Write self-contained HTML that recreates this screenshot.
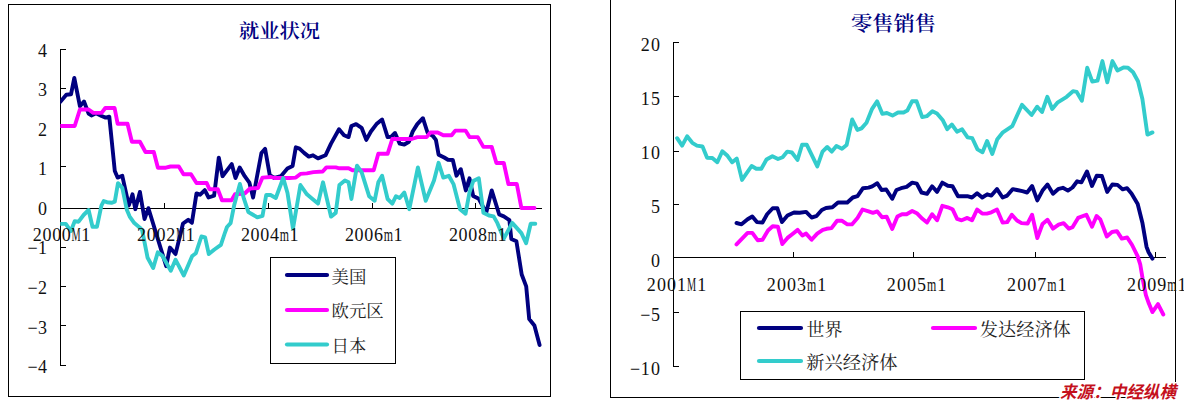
<!DOCTYPE html><html><head><meta charset="utf-8"><style>html,body{margin:0;padding:0;background:#fff;}svg{display:block}</style></head><body>
<svg width="1184" height="404" viewBox="0 0 1184 404">
<rect width="1184" height="404" fill="#fff"/>
<g class="nt" shape-rendering="crispEdges" fill="#000">
<rect x="8" y="4" width="543" height="1"/><rect x="8" y="396" width="543" height="1"/>
<rect x="8" y="4" width="1" height="393"/><rect x="550" y="4" width="1" height="393"/>
<rect x="60" y="49" width="1" height="317"/>
<rect x="60" y="49" width="6" height="1"/>
<rect x="60" y="88" width="6" height="1"/>
<rect x="60" y="127" width="6" height="1"/>
<rect x="60" y="166" width="6" height="1"/>
<rect x="60" y="247" width="6" height="1"/>
<rect x="60" y="286" width="6" height="1"/>
<rect x="60" y="325" width="6" height="1"/>
<rect x="60" y="365" width="6" height="1"/>
<rect x="60" y="208" width="482" height="1"/>
<rect x="164" y="203" width="1" height="5"/>
<rect x="268" y="203" width="1" height="5"/>
<rect x="372" y="203" width="1" height="5"/>
<rect x="475" y="203" width="1" height="5"/>
<rect x="270" y="257" width="126" height="1"/><rect x="270" y="363" width="126" height="1"/>
<rect x="270" y="257" width="1" height="107"/><rect x="395" y="257" width="1" height="107"/>
</g>
<g class="nt" fill="none" stroke-width="3.9" stroke-linejoin="round" stroke-linecap="round">
<clipPath id="cl"><rect x="60.3" y="0" width="500" height="404"/></clipPath>
<g clip-path="url(#cl)">
<polyline stroke="#000080" points="59.0,103.3 60.8,101.2 66.3,94.7 71.0,94.3 74.3,78.0 79.9,106.2 84.0,101.5 88.6,113.6 91.4,115.5 96.0,113.2 101.6,116.0 105.6,117.6 109.3,116.7 114.8,171.1 117.6,177.6 122.3,175.8 128.8,205.5 132.5,194.3 135.3,209.2 139.9,191.9 144.5,219.0 148.4,208.2 166.2,266.2 169.9,247.6 175.5,254.1 183.0,223.5 188.2,219.8 191.9,222.8 196.5,193.4 200.2,194.7 204.8,190.1 208.6,197.5 214.1,195.7 218.8,157.6 222.5,176.2 231.7,164.1 235.5,178.0 239.7,167.5 244.7,176.2 249.4,182.7 253.1,197.5 261.4,153.0 265.1,148.9 269.8,175.3 274.4,178.0 280.9,176.2 287.4,168.6 292.6,165.9 295.8,147.3 299.5,148.6 304.1,152.9 308.8,156.6 313.0,155.3 318.0,158.4 325.5,155.3 331.0,143.6 339.0,129.3 344.0,135.3 348.6,137.1 351.4,126.0 356.1,124.1 361.6,127.8 366.3,139.9 370.9,131.5 376.5,124.1 382.1,119.5 387.6,137.1 391.3,136.7 395.0,133.0 399.7,143.6 404.3,144.5 409.0,141.7 412.7,131.5 417.3,124.1 422.9,118.2 427.5,132.5 433.1,136.2 435.9,139.9 438.6,154.7 444.2,157.5 447.9,159.7 452.8,160.0 456.5,175.7 460.8,169.2 465.8,190.4 469.5,178.3 473.2,196.0 478.8,198.8 486.2,212.7 491.7,190.4 499.2,214.5 503.8,216.4 509.4,220.1 511.3,238.9 516.4,241.3 521.7,274.5 526.2,286.4 529.2,319.1 534.4,325.5 539.6,345.0"/>
<polyline stroke="#FF00FF" points="58.0,126.0 74.7,126.0 79.9,109.5 88.6,109.5 93.3,112.9 101.6,112.9 105.3,108.0 114.6,108.0 117.6,123.7 127.5,123.7 131.9,141.7 139.9,141.7 145.5,152.0 153.8,152.0 157.9,167.7 165.9,167.7 170.5,166.5 178.8,166.5 183.5,174.3 191.0,174.3 196.5,183.0 206.7,183.0 209.5,189.2 217.8,189.2 222.0,200.2 231.5,200.2 235.0,194.3 244.7,193.5 250.0,188.5 258.0,188.0 262.5,177.6 271.0,177.0 274.4,178.0 289.3,178.0 295.8,177.6 300.4,173.9 306.9,173.4 313.4,172.1 322.7,171.5 326.4,167.4 335.7,167.4 339.4,168.3 348.6,168.3 352.4,170.2 373.7,170.2 378.3,153.8 387.6,153.8 392.3,139.0 411.7,139.0 417.3,137.1 426.6,137.1 430.3,132.5 437.7,132.5 443.3,135.3 451.6,135.3 455.3,130.6 465.5,130.6 469.5,137.1 477.8,137.1 483.4,146.9 491.7,146.9 496.4,163.0 503.8,163.0 508.4,184.0 516.8,184.0 521.4,208.0 534.5,208.0"/>
<polyline stroke="#33CCCC" points="58.0,223.9 65.8,223.9 70.8,231.2 74.7,221.2 78.6,221.7 83.6,215.0 88.6,210.0 92.5,226.7 97.0,226.7 101.4,205.6 103.7,201.1 107.0,202.2 111.5,202.8 114.8,201.7 118.0,183.2 122.3,187.8 126.9,210.1 129.7,216.6 134.3,223.1 139.9,227.7 142.1,230.0 147.6,257.8 153.2,268.0 157.8,252.3 162.5,256.0 170.8,270.8 175.5,259.7 183.8,275.5 192.2,256.0 195.9,253.2 201.4,236.5 205.1,237.4 208.8,254.1 214.4,249.5 220.9,244.8 224.5,234.0 227.0,227.0 230.6,223.2 234.3,204.7 239.9,183.9 243.9,198.7 248.4,212.1 252.1,214.3 257.3,217.3 262.5,215.8 266.2,195.0 270.6,195.0 275.8,198.0 283.2,178.0 287.5,193.0 293.0,228.6 300.4,185.0 306.9,194.3 312.5,199.0 318.0,203.6 323.0,182.3 331.0,216.6 335.7,212.9 339.4,185.0 344.9,180.4 348.6,182.3 351.4,199.0 357.0,165.6 361.6,172.1 369.1,196.2 374.6,200.8 378.3,182.3 382.1,175.8 387.6,199.0 392.3,203.6 396.0,196.2 399.7,198.0 404.3,192.5 409.3,209.2 417.9,167.4 425.7,200.8 434.0,180.4 438.6,162.8 443.3,177.6 448.8,175.8 453.5,184.1 460.0,209.2 465.5,213.8 469.5,192.3 473.2,181.1 478.8,178.3 483.4,212.7 489.0,215.5 493.6,216.4 497.3,222.9 503.8,238.6 512.2,222.9 521.4,233.1 526.1,243.3 530.7,223.8 535.3,223.8"/>
</g>
</g>
<g font-family="'Liberation Serif', serif" font-size="18" fill="#111">
<text y="56.5" text-anchor="middle"><tspan x="42.50">4</tspan></text>
<text y="96.1" text-anchor="middle"><tspan x="42.50">3</tspan></text>
<text y="135.7" text-anchor="middle"><tspan x="42.50">2</tspan></text>
<text y="175.2" text-anchor="middle"><tspan x="42.50">1</tspan></text>
<text y="214.9" text-anchor="middle"><tspan x="42.50">0</tspan></text>
<text y="254.4" text-anchor="middle"><tspan x="32.60">−</tspan><tspan x="42.50">1</tspan></text>
<text y="294.1" text-anchor="middle"><tspan x="32.60">−</tspan><tspan x="42.50">2</tspan></text>
<text y="333.6" text-anchor="middle"><tspan x="32.60">−</tspan><tspan x="42.50">3</tspan></text>
<text y="373.2" text-anchor="middle"><tspan x="32.60">−</tspan><tspan x="42.50">4</tspan></text>
<text y="241" text-anchor="middle"><tspan x="37.20">2</tspan><tspan x="46.92">0</tspan><tspan x="56.64">0</tspan><tspan x="66.36">0</tspan><tspan x="85.80">1</tspan></text><text transform="translate(76.08,241) scale(0.57,1)" text-anchor="middle">M</text>
<text y="241" text-anchor="middle"><tspan x="141.60">2</tspan><tspan x="151.32">0</tspan><tspan x="161.04">0</tspan><tspan x="170.76">2</tspan><tspan x="190.20">1</tspan></text><text transform="translate(180.48,241) scale(0.57,1)" text-anchor="middle">M</text>
<text y="241" text-anchor="middle"><tspan x="245.40">2</tspan><tspan x="255.12">0</tspan><tspan x="264.84">0</tspan><tspan x="274.56">4</tspan><tspan x="294.00">1</tspan></text><text transform="translate(284.28,241) scale(0.66,1)" text-anchor="middle">m</text>
<text y="241" text-anchor="middle"><tspan x="349.40">2</tspan><tspan x="359.12">0</tspan><tspan x="368.84">0</tspan><tspan x="378.56">6</tspan><tspan x="398.00">1</tspan></text><text transform="translate(388.28,241) scale(0.66,1)" text-anchor="middle">m</text>
<text y="241" text-anchor="middle"><tspan x="453.40">2</tspan><tspan x="463.12">0</tspan><tspan x="472.84">0</tspan><tspan x="482.56">8</tspan><tspan x="502.00">1</tspan></text><text transform="translate(492.28,241) scale(0.66,1)" text-anchor="middle">m</text>
</g>
<text x="239" y="37.5" font-family="'Liberation Serif', 'Noto Serif CJK SC', serif" font-size="19" font-weight="600" fill="#000080" textLength="81" lengthAdjust="spacingAndGlyphs">就业状况</text>
<g class="nt" stroke-width="4.2" stroke-linecap="round">
<line x1="287" y1="275" x2="327" y2="275" stroke="#000080"/>
<line x1="287" y1="310" x2="327" y2="310" stroke="#FF00FF"/>
<line x1="287" y1="344.5" x2="327" y2="344.5" stroke="#33CCCC"/>
</g>
<g font-family="'Liberation Serif', 'Noto Serif CJK SC', serif" font-size="17.4" fill="#222">
<text x="331.5" y="282.7">美国</text>
<text x="331.5" y="317">欧元区</text>
<text x="331.5" y="351.6">日本</text>
</g>
<g class="nt" shape-rendering="crispEdges" fill="#000">
<rect x="610" y="0" width="1" height="398"/>
<rect x="1175" y="0" width="1" height="383"/>
<rect x="610" y="397" width="566" height="1"/>
<rect x="673" y="42" width="1" height="325"/>
<rect x="673" y="42" width="6" height="1"/>
<rect x="673" y="96" width="6" height="1"/>
<rect x="673" y="151" width="6" height="1"/>
<rect x="673" y="204" width="6" height="1"/>
<rect x="673" y="312" width="6" height="1"/>
<rect x="673" y="366" width="6" height="1"/>
<rect x="673" y="257" width="493" height="1"/>
<rect x="793" y="252" width="1" height="5"/>
<rect x="913" y="252" width="1" height="5"/>
<rect x="1035" y="252" width="1" height="5"/>
<rect x="1155" y="252" width="1" height="5"/>
<rect x="740" y="311" width="345" height="1"/><rect x="740" y="379" width="345" height="1"/>
<rect x="740" y="311" width="1" height="69"/><rect x="1084" y="311" width="1" height="69"/>
</g>
<g class="nt" fill="none" stroke-width="3.9" stroke-linejoin="round" stroke-linecap="round">
<polyline stroke="#000080" points="736.5,223.0 741.5,224.3 747.6,219.3 752.3,216.5 756.9,222.1 762.5,222.5 767.1,214.3 772.7,208.2 777.3,208.2 782.0,222.1 787.5,215.6 794.0,212.5 799.6,212.8 806.1,211.9 811.6,217.5 816.3,216.2 821.8,210.0 826.0,208.0 832.4,207.3 838.0,202.5 847.3,202.5 852.8,197.5 857.5,196.2 863.0,188.2 868.6,187.6 872.3,186.3 877.3,183.2 881.6,190.0 886.2,189.5 892.2,198.8 896.4,190.0 901.1,188.2 906.6,186.9 912.2,182.6 916.8,183.6 921.5,192.5 927.0,193.8 932.1,186.3 937.1,191.9 942.3,182.6 947.8,185.8 952.5,186.3 958.0,196.2 967.3,196.2 972.0,197.5 977.1,193.2 982.2,197.5 987.2,194.3 991.4,195.6 997.0,189.1 1002.6,197.5 1007.2,195.6 1012.8,189.1 1017.0,190.0 1022.4,191.2 1027.1,192.5 1032.1,186.0 1037.3,200.4 1042.5,190.6 1047.5,184.5 1053.0,193.8 1058.6,188.8 1062.9,187.8 1067.9,190.6 1072.5,187.5 1077.2,181.3 1081.4,182.3 1087.0,171.5 1092.0,186.0 1096.7,175.8 1101.9,176.0 1107.2,192.0 1112.3,184.5 1117.5,184.9 1122.6,189.4 1127.1,188.2 1131.5,193.4 1137.7,204.0 1142.5,223.3 1146.5,246.7 1148.6,252.3 1152.5,258.7"/>
<polyline stroke="#FF00FF" points="736.5,244.4 747.6,232.9 752.3,232.9 757.8,240.3 762.5,239.7 768.0,230.5 772.7,226.2 777.9,226.7 782.3,244.0 787.5,237.9 792.2,234.2 797.7,229.9 802.4,235.5 806.1,233.6 811.6,239.7 817.2,233.6 822.8,229.9 826.5,228.8 831.5,228.1 837.1,220.7 841.7,220.7 847.3,224.4 851.9,224.4 857.5,217.9 862.5,209.5 868.6,211.4 872.9,212.9 877.3,211.4 882.1,217.3 886.6,216.6 892.2,229.0 897.4,216.6 902.0,214.2 906.6,214.2 912.2,211.0 916.8,213.2 922.4,218.8 927.0,222.5 932.1,214.2 937.1,220.3 942.3,205.8 947.8,207.3 952.5,209.2 957.1,218.8 961.7,220.3 967.3,217.9 972.0,220.3 977.1,209.5 982.2,213.6 986.8,213.6 991.4,212.3 997.0,209.5 1002.6,222.5 1007.2,222.1 1011.8,214.7 1017.0,220.5 1021.5,223.1 1027.6,223.5 1032.1,214.7 1037.3,238.0 1042.5,224.0 1047.5,219.7 1053.0,228.6 1058.6,224.6 1063.6,223.1 1068.8,228.6 1072.5,227.2 1078.1,217.9 1086.4,214.7 1092.0,226.8 1096.6,216.0 1100.3,219.4 1106.8,236.5 1112.0,232.0 1116.9,231.2 1121.8,238.6 1127.2,237.5 1132.1,245.0 1137.7,256.3 1140.3,264.7 1142.7,279.1 1145.9,295.2 1148.8,303.3 1152.4,312.1 1158.0,304.1 1163.3,314.5"/>
<polyline stroke="#33CCCC" points="677.1,138.2 682.1,145.6 687.1,136.3 692.3,142.8 696.9,145.6 702.5,146.5 707.1,157.7 712.3,158.0 717.3,162.3 722.3,151.2 727.5,155.8 732.2,162.3 736.8,158.6 742.0,179.9 751.6,166.0 756.3,168.8 761.3,168.8 766.5,159.5 772.4,156.2 778.0,159.0 782.6,157.2 787.3,151.6 791.9,152.5 797.5,159.9 802.1,144.7 806.7,144.7 812.3,156.2 817.3,166.4 822.5,151.6 827.2,147.0 831.8,151.6 836.4,146.0 842.0,148.8 846.6,145.1 852.2,119.5 857.4,129.9 861.5,128.4 866.5,122.7 872.1,108.8 877.1,101.3 882.3,113.8 886.9,113.0 892.5,115.6 898.0,112.5 903.6,112.5 907.3,110.6 912.0,101.3 916.6,101.3 922.2,117.1 926.8,116.2 932.4,111.2 937.0,113.4 942.6,119.9 947.2,129.2 951.8,124.5 957.0,131.7 962.1,129.3 967.6,137.3 972.3,138.2 977.5,149.4 982.5,152.2 987.1,141.0 992.3,154.0 997.3,139.2 1002.9,132.3 1012.2,126.2 1022.0,104.8 1031.6,115.0 1037.2,106.7 1042.0,112.0 1047.3,96.8 1052.2,109.0 1057.8,102.3 1066.7,96.8 1073.0,91.2 1076.7,91.9 1081.9,100.8 1087.2,67.8 1092.3,81.6 1097.5,80.7 1102.4,61.1 1107.3,82.3 1112.4,61.1 1117.5,70.5 1123.5,67.4 1128.0,67.8 1133.1,72.3 1138.0,81.2 1142.4,99.0 1147.4,134.6 1152.5,132.4"/>
</g>
<g font-family="'Liberation Serif', serif" font-size="18" fill="#111">
<text y="51.4" text-anchor="middle"><tspan x="645.30">2</tspan><tspan x="655.40">0</tspan></text>
<text y="105.4" text-anchor="middle"><tspan x="645.30">1</tspan><tspan x="655.40">5</tspan></text>
<text y="159.4" text-anchor="middle"><tspan x="645.30">1</tspan><tspan x="655.40">0</tspan></text>
<text y="213.4" text-anchor="middle"><tspan x="655.40">5</tspan></text>
<text y="267.4" text-anchor="middle"><tspan x="655.40">0</tspan></text>
<text y="321.4" text-anchor="middle"><tspan x="645.30">−</tspan><tspan x="655.40">5</tspan></text>
<text y="375.4" text-anchor="middle"><tspan x="635.20">−</tspan><tspan x="645.30">1</tspan><tspan x="655.40">0</tspan></text>
<text y="291" text-anchor="middle"><tspan x="651.30">2</tspan><tspan x="661.38">0</tspan><tspan x="671.46">0</tspan><tspan x="681.54">1</tspan><tspan x="701.70">1</tspan></text><text transform="translate(691.62,291) scale(0.57,1)" text-anchor="middle">M</text>
<text y="291" text-anchor="middle"><tspan x="771.30">2</tspan><tspan x="781.38">0</tspan><tspan x="791.46">0</tspan><tspan x="801.54">3</tspan><tspan x="821.70">1</tspan></text><text transform="translate(811.62,291) scale(0.66,1)" text-anchor="middle">m</text>
<text y="291" text-anchor="middle"><tspan x="891.30">2</tspan><tspan x="901.38">0</tspan><tspan x="911.46">0</tspan><tspan x="921.54">5</tspan><tspan x="941.70">1</tspan></text><text transform="translate(931.62,291) scale(0.66,1)" text-anchor="middle">m</text>
<text y="291" text-anchor="middle"><tspan x="1011.60">2</tspan><tspan x="1021.68">0</tspan><tspan x="1031.76">0</tspan><tspan x="1041.84">7</tspan><tspan x="1062.00">1</tspan></text><text transform="translate(1051.92,291) scale(0.66,1)" text-anchor="middle">m</text>
<text y="291" text-anchor="middle"><tspan x="1131.60">2</tspan><tspan x="1141.68">0</tspan><tspan x="1151.76">0</tspan><tspan x="1161.84">9</tspan><tspan x="1182.00">1</tspan></text><text transform="translate(1171.92,291) scale(0.66,1)" text-anchor="middle">m</text>
</g>
<text x="851" y="31" font-family="'Liberation Serif', 'Noto Serif CJK SC', serif" font-size="20" font-weight="600" fill="#000080" textLength="85" lengthAdjust="spacingAndGlyphs">零售销售</text>
<g class="nt" stroke-width="4.2" stroke-linecap="round">
<line x1="759" y1="328" x2="801" y2="328" stroke="#000080"/>
<line x1="933" y1="328" x2="975" y2="328" stroke="#FF00FF"/>
<line x1="759" y1="361" x2="801" y2="361" stroke="#33CCCC"/>
</g>
<g font-family="'Liberation Serif', 'Noto Serif CJK SC', serif" font-size="18" fill="#222">
<text x="806.5" y="336">世界</text>
<text x="979.8" y="336" textLength="91" lengthAdjust="spacingAndGlyphs">发达经济体</text>
<text x="806.3" y="369.3" textLength="91.3" lengthAdjust="spacingAndGlyphs">新兴经济体</text>
</g>
<text x="1060" y="397.5" font-family="'Liberation Sans', 'Noto Sans CJK SC', sans-serif" font-size="17" font-weight="bold" font-style="italic" fill="#C4101C" stroke="#fff" stroke-width="3" textLength="116" lengthAdjust="spacingAndGlyphs" paint-order="stroke" stroke-linejoin="round">来源：中经纵横</text>
</svg></body></html>
